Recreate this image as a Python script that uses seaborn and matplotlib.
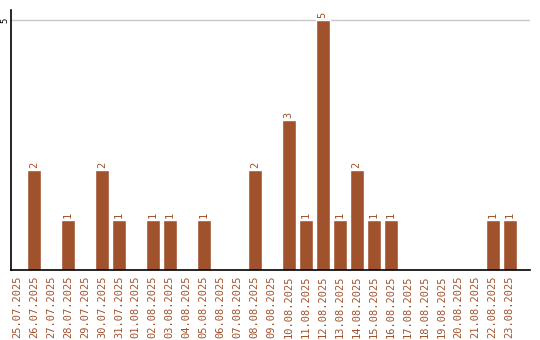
import matplotlib
matplotlib.use("Agg")
import matplotlib.pyplot as plt
import seaborn as sns
import pandas as pd

dates = ["25.07.2025", "26.07.2025", "27.07.2025", "28.07.2025", "29.07.2025",
         "30.07.2025", "31.07.2025", "01.08.2025", "02.08.2025", "03.08.2025",
         "04.08.2025", "05.08.2025", "06.08.2025", "07.08.2025", "08.08.2025",
         "09.08.2025", "10.08.2025", "11.08.2025", "12.08.2025", "13.08.2025",
         "14.08.2025", "15.08.2025", "16.08.2025", "17.08.2025", "18.08.2025",
         "19.08.2025", "20.08.2025", "21.08.2025", "22.08.2025", "23.08.2025"]
counts = [0, 2, 0, 1, 0, 2, 1, 0, 1, 1, 0, 1, 0, 0, 2, 0, 3, 1, 5, 1, 2, 1, 1,
          0, 0, 0, 0, 0, 1, 1]
y_ticks = [5]

BROWN = "#A0522D"
df = pd.DataFrame({"date": dates, "count": counts})

sns.set_style("white")
plt.rcParams["font.family"] = ["DejaVu Sans Mono", "DejaVu Sans"]

fig = plt.figure(figsize=(5.4, 3.4), dpi=100)
ax = fig.add_axes([11 / 540, 70 / 340, 519 / 540, 260 / 340])

sns.barplot(data=df, x="date", y="count", color=BROWN, saturation=1,
            width=0.82, ax=ax, zorder=2)

ax.set_xlim(-0.35, 30.2)
ax.set_ylim(0, 5.2)
ax.set_yticks(y_ticks)
ax.set_yticklabels([str(t) for t in y_ticks], rotation=90, va="center",
                   ha="right", fontsize=6.5, color="black")
ax.yaxis.grid(True, color="#c8c8c8", linewidth=1, zorder=0)
ax.set_axisbelow(True)
ax.tick_params(axis="y", length=0, pad=1)
ax.tick_params(axis="x", length=0, pad=4)
ax.set_xticks(range(len(dates)))
ax.set_xticklabels(dates, rotation=90, fontsize=7.5, color=BROWN)
ax.set_xlabel("")
ax.set_ylabel("")

for i, c in enumerate(counts):
    if c > 0:
        ax.text(i, c + 0.04, str(c), rotation=90, ha="center", va="bottom",
                fontsize=7.5, color=BROWN)

for s in ["top", "right"]:
    ax.spines[s].set_visible(False)
for s in ["left", "bottom"]:
    ax.spines[s].set_color("black")
    ax.spines[s].set_linewidth(1.2)

fig.savefig("out.png", dpi=100)
